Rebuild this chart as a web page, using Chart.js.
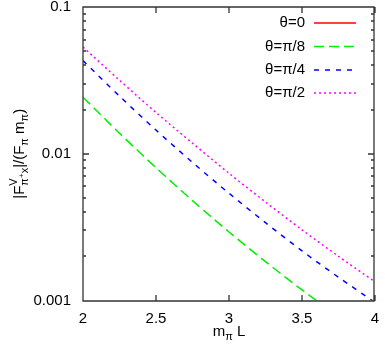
<!DOCTYPE html>
<html>
<head>
<meta charset="utf-8">
<script src="https://cdn.jsdelivr.net/npm/chart.js@4"></script>
<style>
html, body { margin: 0; padding: 0; background: #fff; }
#wrap { width: 385px; height: 348px; }
</style>
</head>
<body>
<div id="wrap"><canvas id="c" width="385" height="348"></canvas></div>
<script>
const mL = [2, 2.25, 2.5, 2.75, 3, 3.25, 3.5, 3.75, 4];
const seriesNames = ["θ=0", "θ=π/8", "θ=π/4", "θ=π/2"];
// theta=0 vanishes, so nothing shows on the log axis
const theta0 = [];
const thetaPi8 = [0.0243, 0.0138, 0.00803, 0.00479, 0.00293, 0.00184, 0.00118, 0.00078, 0.00052];
const thetaPi4 = [0.0431, 0.0247, 0.0145, 0.00873, 0.00538, 0.00339, 0.00218, 0.00144, 0.00097];
const thetaPi2 = [0.0533, 0.0317, 0.0191, 0.0118, 0.00736, 0.00469, 0.00303, 0.00200, 0.00134];
const xTicks = [2, 2.5, 3, 3.5, 4];
const xTickLabels = ["2", "2.5", "3", "3.5", "4"];
const yTicks = [0.001, 0.01, 0.1];
const yTickLabels = ["0.001", "0.01", "0.1"];

const FONT = "'Liberation Sans', Arial, sans-serif";
Chart.defaults.font.family = FONT;
Chart.defaults.font.size = 15;
Chart.defaults.color = "#000";

function pts(vals) {
    return vals.map((v, i) => ({ x: mL[i], y: v }));
}

// draws a run of [text, size, dy] pieces, returns the width
function drawPieces(ctx, pieces, x, y, measureOnly) {
    let cx = x;
    for (const p of pieces) {
        if (p.stack) {
            let w = 0;
            for (const s of p.stack) {
                w = Math.max(w, drawPieces(ctx, s, cx, y, measureOnly));
            }
            cx += w;
            continue;
        }
        ctx.font = p[1] + "px " + FONT;
        if (!measureOnly) ctx.fillText(p[0], cx, y + p[2]);
        cx += ctx.measureText(p[0]).width;
    }
    return cx - x;
}

const framePlugin = {
    id: "frame",
    afterDraw(chart) {
        const ctx = chart.ctx;
        const area = chart.chartArea;
        const L = Math.round(area.left), R = Math.round(area.right) - 1;
        const T = Math.round(area.top), B = Math.round(area.bottom);
        const xs = chart.scales.x, ys = chart.scales.y;
        ctx.save();
        ctx.setLineDash([]);
        ctx.strokeStyle = "#333";
        ctx.lineWidth = 1.3;
        ctx.beginPath();
        ctx.moveTo(L, T); ctx.lineTo(R, T); ctx.lineTo(R, B); ctx.lineTo(L, B); ctx.closePath();
        for (const v of xTicks) {
            const px = Math.round(xs.getPixelForValue(v));
            ctx.moveTo(px, B); ctx.lineTo(px, B - 6);
            ctx.moveTo(px, T); ctx.lineTo(px, T + 6);
        }
        for (let d = -3; d <= -1; d++) {
            for (let k = 1; k <= 9; k++) {
                const v = k * Math.pow(10, d);
                if (v > 0.1 + 1e-12) continue;
                const py = Math.round(ys.getPixelForValue(v));
                const len = k === 1 ? 6 : 3;
                ctx.moveTo(L, py); ctx.lineTo(L + len, py);
                ctx.moveTo(R, py); ctx.lineTo(R - len, py);
            }
        }
        ctx.stroke();

        // tick labels
        ctx.fillStyle = "#000";
        ctx.font = "15px " + FONT;
        ctx.textAlign = "center";
        ctx.textBaseline = "alphabetic";
        xTicks.forEach((v, i) => ctx.fillText(xTickLabels[i], xs.getPixelForValue(v), 323));
        ctx.textAlign = "right";
        ctx.textBaseline = "middle";
        yTicks.forEach((v, i) => ctx.fillText(yTickLabels[i], 71, ys.getPixelForValue(v)));

        // legend inside top right
        const rows = [23, 46.5, 70, 93];
        chart.data.datasets.forEach((ds, i) => {
            const y = rows[i];
            ctx.font = "15px " + FONT;
            ctx.fillStyle = "#000";
            ctx.textAlign = "right";
            ctx.textBaseline = "middle";
            ctx.fillText(ds.label, 305, y);
            ctx.strokeStyle = ds.borderColor;
            ctx.lineWidth = ds.borderWidth;
            ctx.setLineDash(ds.borderDash || []);
            ctx.beginPath();
            ctx.moveTo(314, y); ctx.lineTo(356, y);
            ctx.stroke();
        });
        ctx.setLineDash([]);

        // axis titles
        ctx.fillStyle = "#000";
        ctx.textAlign = "left";
        ctx.textBaseline = "alphabetic";
        const xt = [["m", 15, 0], ["π", 11, 4], [" L", 15, 0]];
        const xw = drawPieces(ctx, xt, 0, 0, true);
        drawPieces(ctx, xt, (area.left + area.right) / 2 - xw / 2, 336, false);

        const yt = [
            ["|F", 15, 0],
            { stack: [[["V", 11, -7]], [["π", 11, 4], ["+", 8, 0], ["x", 11, 4]]] },
            ["|/(F", 15, 0], ["π", 11, 4], [" m", 15, 0], ["π", 11, 4], [")", 15, 0]
        ];
        const yw = drawPieces(ctx, yt, 0, 0, true);
        ctx.translate(24, (area.top + area.bottom) / 2);
        ctx.rotate(-Math.PI / 2);
        drawPieces(ctx, yt, -yw / 2, 0, false);
        ctx.restore();
    }
};

new Chart(document.getElementById("c"), {
    type: "line",
    data: {
        datasets: [
            { label: seriesNames[0], data: pts(theta0), borderColor: "#ff0000", borderWidth: 1.5 },
            { label: seriesNames[1], data: pts(thetaPi8), borderColor: "#00ee00", borderWidth: 1.5, borderDash: [10, 5] },
            { label: seriesNames[2], data: pts(thetaPi4), borderColor: "#0000ff", borderWidth: 1.5, borderDash: [5, 6] },
            { label: seriesNames[3], data: pts(thetaPi2), borderColor: "#ff00ff", borderWidth: 1.5, borderDash: [2, 3] }
        ]
    },
    options: {
        responsive: false,
        animation: false,
        devicePixelRatio: 1,
        layout: { padding: { left: 0, top: 7, right: 10, bottom: 0 } },
        elements: { point: { radius: 0 }, line: { tension: 0.3, fill: false } },
        plugins: { legend: { display: false }, tooltip: { enabled: false } },
        scales: {
            x: {
                type: "linear",
                min: 2, max: 4,
                grid: { display: false, drawTicks: false },
                border: { display: false },
                ticks: { display: false },
                afterFit(scale) { scale.height = 47.5; }
            },
            y: {
                type: "logarithmic",
                min: 0.001, max: 0.1,
                grid: { display: false, drawTicks: false },
                border: { display: false },
                ticks: { display: false },
                afterFit(scale) { scale.width = 83; }
            }
        }
    },
    plugins: [framePlugin]
});
</script>
</body>
</html>
